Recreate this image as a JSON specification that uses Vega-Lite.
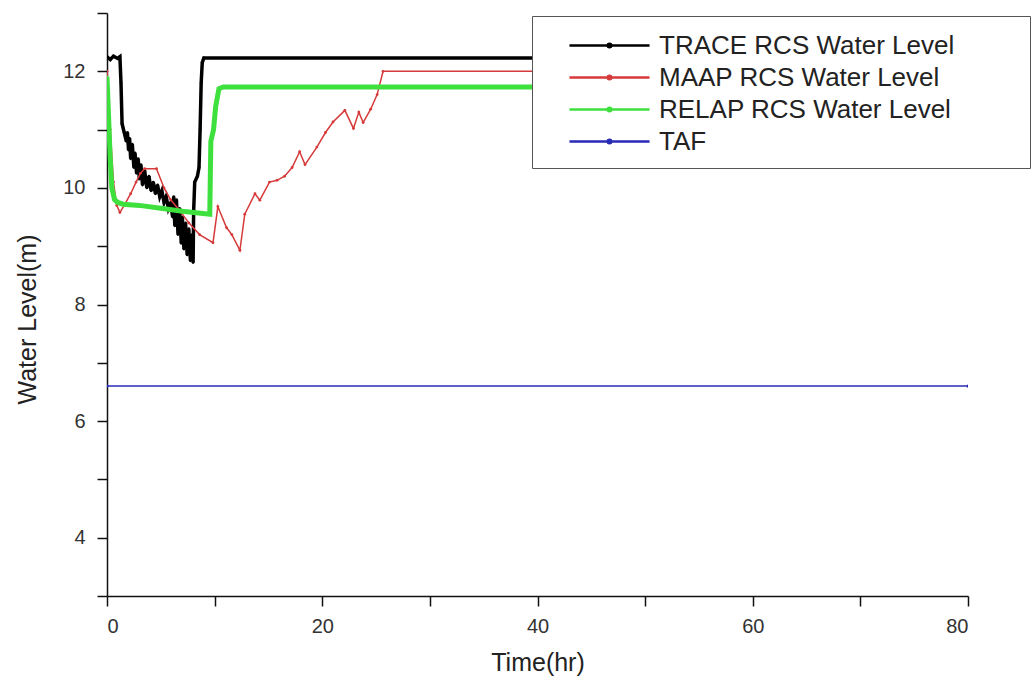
{
  "$schema": "https://vega.github.io/schema/vega-lite/v6.json",
  "autosize": {"type": "none"},
  "padding": {"left": 107, "top": 13, "right": 65, "bottom": 92},
  "width": 861,
  "height": 583,
  "background": "white",
  "config": {
    "view": {"stroke": null},
    "font": "Liberation Sans",
    "axis": {
      "grid": false,
      "domainColor": "#111",
      "domainWidth": 1.5,
      "tickColor": "#111",
      "tickWidth": 1.5,
      "tickSize": 10,
      "labelFont": "Liberation Sans",
      "labelFontSize": 20,
      "labelColor": "#333",
      "titleFont": "Liberation Sans",
      "titleFontSize": 25,
      "titleFontWeight": "normal",
      "titleColor": "#222"
    },
    "legend": {
      "orient": "none",
      "legendX": 425,
      "legendY": 3,
      "fillColor": "white",
      "strokeColor": "#555",
      "padding": 13,
      "symbolOffset": 48,
      "symbolType": "M-2.67,0H2.67M-0.12,0a0.12,0.12 0 1,0 0.24,0a0.12,0.12 0 1,0 -0.24,0M26.8,0",
      "symbolSize": 900,
      "symbolStrokeWidth": 2.5,
      "labelFont": "Liberation Sans",
      "labelFontSize": 26,
      "labelColor": "#222",
      "labelOffset": 33,
      "labelLimit": 500,
      "rowPadding": 2
    }
  },
  "data": {
    "values": [
      {"s": "TRACE RCS Water Level", "t": 0, "v": 12.25},
      {"s": "TRACE RCS Water Level", "t": 0.3, "v": 12.2},
      {"s": "TRACE RCS Water Level", "t": 0.6, "v": 12.26},
      {"s": "TRACE RCS Water Level", "t": 1.0, "v": 12.22},
      {"s": "TRACE RCS Water Level", "t": 1.2, "v": 12.25},
      {"s": "TRACE RCS Water Level", "t": 1.3, "v": 11.8},
      {"s": "TRACE RCS Water Level", "t": 1.4, "v": 11.1},
      {"s": "TRACE RCS Water Level", "t": 1.6, "v": 10.95},
      {"s": "TRACE RCS Water Level", "t": 1.8, "v": 10.8},
      {"s": "TRACE RCS Water Level", "t": 1.9, "v": 10.95},
      {"s": "TRACE RCS Water Level", "t": 2.0, "v": 10.65},
      {"s": "TRACE RCS Water Level", "t": 2.1, "v": 10.85},
      {"s": "TRACE RCS Water Level", "t": 2.2, "v": 10.5},
      {"s": "TRACE RCS Water Level", "t": 2.35, "v": 10.75},
      {"s": "TRACE RCS Water Level", "t": 2.5, "v": 10.35},
      {"s": "TRACE RCS Water Level", "t": 2.6, "v": 10.6},
      {"s": "TRACE RCS Water Level", "t": 2.75, "v": 10.25},
      {"s": "TRACE RCS Water Level", "t": 2.9, "v": 10.5},
      {"s": "TRACE RCS Water Level", "t": 3.0, "v": 10.15},
      {"s": "TRACE RCS Water Level", "t": 3.15, "v": 10.4},
      {"s": "TRACE RCS Water Level", "t": 3.3, "v": 10.05},
      {"s": "TRACE RCS Water Level", "t": 3.5, "v": 10.3},
      {"s": "TRACE RCS Water Level", "t": 3.7, "v": 10.0},
      {"s": "TRACE RCS Water Level", "t": 3.9, "v": 10.2},
      {"s": "TRACE RCS Water Level", "t": 4.1, "v": 9.95},
      {"s": "TRACE RCS Water Level", "t": 4.3, "v": 10.1},
      {"s": "TRACE RCS Water Level", "t": 4.5, "v": 9.9},
      {"s": "TRACE RCS Water Level", "t": 4.7, "v": 10.05},
      {"s": "TRACE RCS Water Level", "t": 4.9, "v": 9.85},
      {"s": "TRACE RCS Water Level", "t": 5.1, "v": 9.95},
      {"s": "TRACE RCS Water Level", "t": 5.3, "v": 9.75},
      {"s": "TRACE RCS Water Level", "t": 5.5, "v": 9.85},
      {"s": "TRACE RCS Water Level", "t": 5.7, "v": 9.65},
      {"s": "TRACE RCS Water Level", "t": 5.9, "v": 9.75},
      {"s": "TRACE RCS Water Level", "t": 6.1, "v": 9.5},
      {"s": "TRACE RCS Water Level", "t": 6.2, "v": 9.85},
      {"s": "TRACE RCS Water Level", "t": 6.3, "v": 9.35},
      {"s": "TRACE RCS Water Level", "t": 6.45, "v": 9.8},
      {"s": "TRACE RCS Water Level", "t": 6.6, "v": 9.2},
      {"s": "TRACE RCS Water Level", "t": 6.75, "v": 9.65},
      {"s": "TRACE RCS Water Level", "t": 6.9, "v": 9.05},
      {"s": "TRACE RCS Water Level", "t": 7.0, "v": 9.5},
      {"s": "TRACE RCS Water Level", "t": 7.15, "v": 8.95},
      {"s": "TRACE RCS Water Level", "t": 7.3, "v": 9.4},
      {"s": "TRACE RCS Water Level", "t": 7.45, "v": 8.85},
      {"s": "TRACE RCS Water Level", "t": 7.6, "v": 9.3},
      {"s": "TRACE RCS Water Level", "t": 7.75, "v": 8.75},
      {"s": "TRACE RCS Water Level", "t": 7.9, "v": 9.2},
      {"s": "TRACE RCS Water Level", "t": 8.0, "v": 8.72},
      {"s": "TRACE RCS Water Level", "t": 8.05, "v": 9.6},
      {"s": "TRACE RCS Water Level", "t": 8.15, "v": 10.1},
      {"s": "TRACE RCS Water Level", "t": 8.4, "v": 10.2},
      {"s": "TRACE RCS Water Level", "t": 8.55, "v": 10.35},
      {"s": "TRACE RCS Water Level", "t": 8.65, "v": 11.0},
      {"s": "TRACE RCS Water Level", "t": 8.75, "v": 11.8},
      {"s": "TRACE RCS Water Level", "t": 8.85, "v": 12.15},
      {"s": "TRACE RCS Water Level", "t": 9.0, "v": 12.23},
      {"s": "TRACE RCS Water Level", "t": 80, "v": 12.23},
      {"s": "MAAP RCS Water Level", "t": 0, "v": 12.0},
      {"s": "MAAP RCS Water Level", "t": 0.3, "v": 11.0},
      {"s": "MAAP RCS Water Level", "t": 0.6, "v": 10.1},
      {"s": "MAAP RCS Water Level", "t": 0.9, "v": 9.7},
      {"s": "MAAP RCS Water Level", "t": 1.2, "v": 9.58},
      {"s": "MAAP RCS Water Level", "t": 1.6, "v": 9.7},
      {"s": "MAAP RCS Water Level", "t": 2.2, "v": 9.9},
      {"s": "MAAP RCS Water Level", "t": 2.7, "v": 10.1},
      {"s": "MAAP RCS Water Level", "t": 3.1, "v": 10.25},
      {"s": "MAAP RCS Water Level", "t": 3.5, "v": 10.33},
      {"s": "MAAP RCS Water Level", "t": 4.6, "v": 10.33},
      {"s": "MAAP RCS Water Level", "t": 5.3, "v": 10.0},
      {"s": "MAAP RCS Water Level", "t": 5.9, "v": 9.8},
      {"s": "MAAP RCS Water Level", "t": 6.8, "v": 9.6},
      {"s": "MAAP RCS Water Level", "t": 7.6, "v": 9.4},
      {"s": "MAAP RCS Water Level", "t": 8.6, "v": 9.2},
      {"s": "MAAP RCS Water Level", "t": 9.85, "v": 9.06},
      {"s": "MAAP RCS Water Level", "t": 10.3, "v": 9.68},
      {"s": "MAAP RCS Water Level", "t": 11.1, "v": 9.32},
      {"s": "MAAP RCS Water Level", "t": 11.6, "v": 9.2},
      {"s": "MAAP RCS Water Level", "t": 12.35, "v": 8.93},
      {"s": "MAAP RCS Water Level", "t": 12.8, "v": 9.55},
      {"s": "MAAP RCS Water Level", "t": 13.75, "v": 9.9},
      {"s": "MAAP RCS Water Level", "t": 14.2, "v": 9.79},
      {"s": "MAAP RCS Water Level", "t": 15.1, "v": 10.1},
      {"s": "MAAP RCS Water Level", "t": 15.8, "v": 10.13},
      {"s": "MAAP RCS Water Level", "t": 16.5, "v": 10.2},
      {"s": "MAAP RCS Water Level", "t": 17.2, "v": 10.35},
      {"s": "MAAP RCS Water Level", "t": 17.9, "v": 10.62},
      {"s": "MAAP RCS Water Level", "t": 18.4, "v": 10.4},
      {"s": "MAAP RCS Water Level", "t": 19.5, "v": 10.7},
      {"s": "MAAP RCS Water Level", "t": 20.3, "v": 10.95},
      {"s": "MAAP RCS Water Level", "t": 21.0, "v": 11.13},
      {"s": "MAAP RCS Water Level", "t": 22.1, "v": 11.33},
      {"s": "MAAP RCS Water Level", "t": 22.9, "v": 11.02},
      {"s": "MAAP RCS Water Level", "t": 23.4, "v": 11.3},
      {"s": "MAAP RCS Water Level", "t": 23.8, "v": 11.12},
      {"s": "MAAP RCS Water Level", "t": 24.5, "v": 11.35},
      {"s": "MAAP RCS Water Level", "t": 25.1, "v": 11.6},
      {"s": "MAAP RCS Water Level", "t": 25.65, "v": 12.0},
      {"s": "MAAP RCS Water Level", "t": 80, "v": 12.0},
      {"s": "RELAP RCS Water Level", "t": 0, "v": 11.9},
      {"s": "RELAP RCS Water Level", "t": 0.15, "v": 11.2},
      {"s": "RELAP RCS Water Level", "t": 0.3, "v": 10.5},
      {"s": "RELAP RCS Water Level", "t": 0.45, "v": 10.0},
      {"s": "RELAP RCS Water Level", "t": 0.7, "v": 9.8},
      {"s": "RELAP RCS Water Level", "t": 1.0, "v": 9.75},
      {"s": "RELAP RCS Water Level", "t": 1.5, "v": 9.72},
      {"s": "RELAP RCS Water Level", "t": 3.0, "v": 9.7},
      {"s": "RELAP RCS Water Level", "t": 5.0, "v": 9.65},
      {"s": "RELAP RCS Water Level", "t": 7.0, "v": 9.6},
      {"s": "RELAP RCS Water Level", "t": 8.5, "v": 9.57},
      {"s": "RELAP RCS Water Level", "t": 9.55, "v": 9.55},
      {"s": "RELAP RCS Water Level", "t": 9.6, "v": 10.2},
      {"s": "RELAP RCS Water Level", "t": 9.65, "v": 10.8},
      {"s": "RELAP RCS Water Level", "t": 9.9, "v": 11.0},
      {"s": "RELAP RCS Water Level", "t": 10.1, "v": 11.4},
      {"s": "RELAP RCS Water Level", "t": 10.4, "v": 11.7},
      {"s": "RELAP RCS Water Level", "t": 10.8, "v": 11.73},
      {"s": "RELAP RCS Water Level", "t": 80, "v": 11.73},
      {"s": "TAF", "t": 0, "v": 6.6},
      {"s": "TAF", "t": 80, "v": 6.6}
    ]
  },
  "encoding": {
    "x": {
      "field": "t", "type": "quantitative",
      "scale": {"domain": [0, 80], "nice": false, "zero": false},
      "axis": {
        "title": "Time(hr)",
        "values": [0, 10, 20, 30, 40, 50, 60, 70, 80],
        "labelExpr": "datum.value % 20 == 0 ? datum.label : ''",
        "labelPadding": 10,
        "titlePadding": 14
      }
    },
    "y": {
      "field": "v", "type": "quantitative",
      "scale": {"domain": [3, 13], "nice": false, "zero": false},
      "axis": {
        "title": "Water Level(m)",
        "values": [3, 4, 5, 6, 7, 8, 9, 10, 11, 12, 13],
        "labelExpr": "(datum.value % 2 == 0 && datum.value >= 4 && datum.value <= 12) ? datum.label : ''",
        "labelPadding": 12,
        "titlePadding": 22,
        "titleY": 306
      }
    },
    "color": {
      "field": "s", "type": "nominal",
      "scale": {
        "domain": ["TRACE RCS Water Level", "MAAP RCS Water Level", "RELAP RCS Water Level", "TAF"],
        "range": ["#000000", "#d63a3a", "#3ee03e", "#2a2ab8"]
      },
      "legend": {"title": null}
    }
  },
  "layer": [
    {
      "transform": [{"filter": "datum.s == 'TRACE RCS Water Level'"}],
      "mark": {"type": "line", "clip": true, "strokeWidth": 3.5, "point": {"filled": true, "size": 8}}
    },
    {
      "transform": [{"filter": "datum.s == 'MAAP RCS Water Level'"}],
      "mark": {"type": "line", "clip": true, "strokeWidth": 1.5, "point": {"filled": true, "size": 8}}
    },
    {
      "transform": [{"filter": "datum.s == 'RELAP RCS Water Level'"}],
      "mark": {"type": "line", "clip": true, "strokeWidth": 5, "point": {"filled": true, "size": 10}}
    },
    {
      "transform": [{"filter": "datum.s == 'TAF'"}],
      "mark": {"type": "line", "clip": true, "strokeWidth": 1.5, "point": {"filled": true, "size": 10}}
    }
  ]
}
